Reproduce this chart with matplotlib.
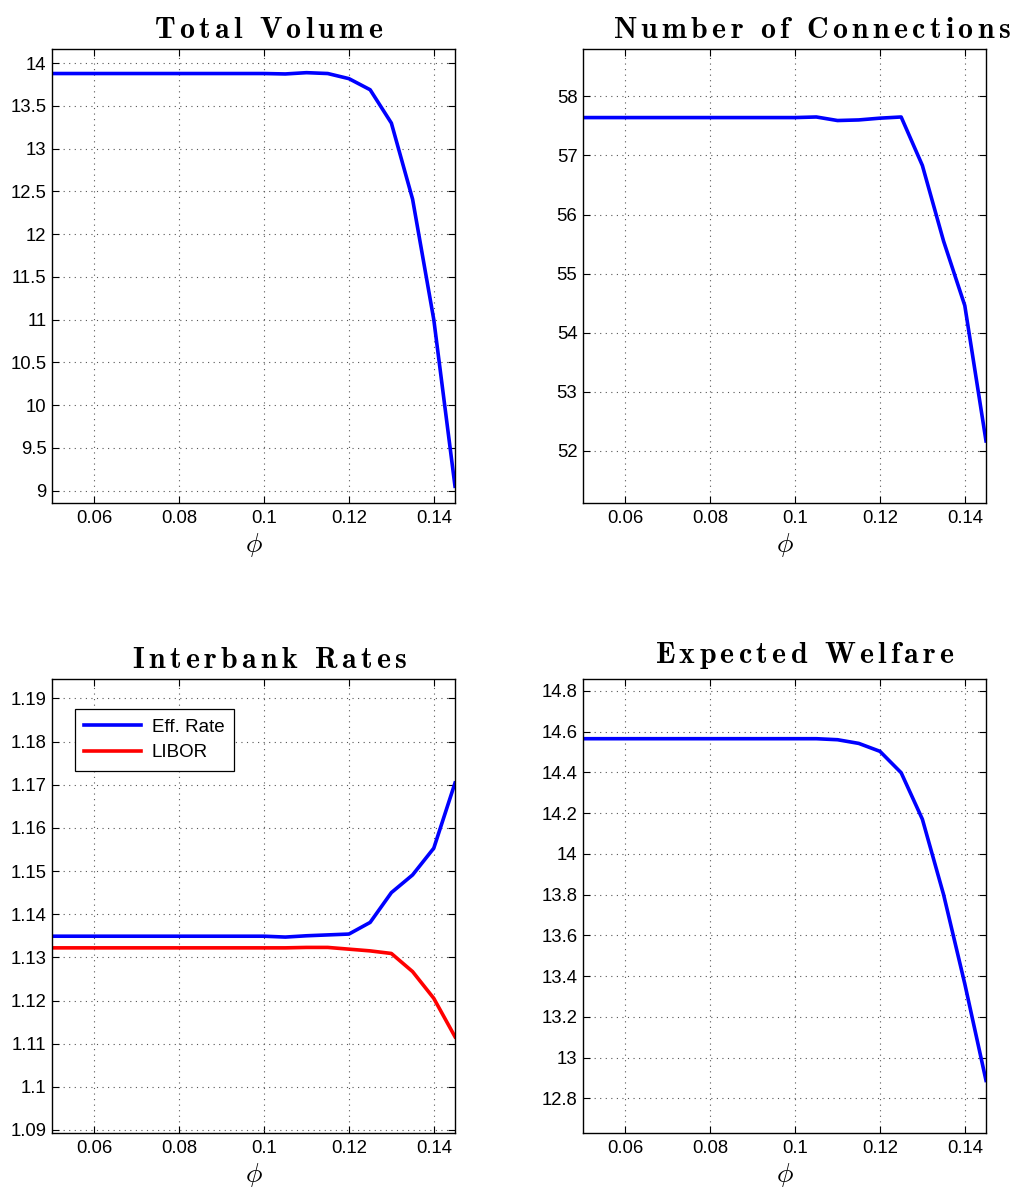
import matplotlib
matplotlib.use("Agg")
import matplotlib.pyplot as plt

plt.rcParams.update({
    "font.family": ["Liberation Sans", "DejaVu Sans"],
    "mathtext.fontset": "cm",
    "axes.linewidth": 1.0,
    "xtick.direction": "in",
    "ytick.direction": "in",
    "xtick.top": True,
    "ytick.right": True,
    "xtick.labelsize": 13.3,
    "ytick.labelsize": 13.3,
})

phi = [0.050, 0.055, 0.060, 0.065, 0.070, 0.075, 0.080, 0.085, 0.090, 0.095,
       0.100, 0.105, 0.110, 0.115, 0.120, 0.125, 0.130, 0.135, 0.140, 0.145]

total_volume = [13.88, 13.88, 13.88, 13.88, 13.88, 13.88, 13.88, 13.88, 13.88, 13.88,
                13.88, 13.875, 13.89, 13.88, 13.82, 13.69, 13.30, 12.41, 11.00, 9.05]

connections = [57.64, 57.64, 57.64, 57.64, 57.64, 57.64, 57.64, 57.64, 57.64, 57.64,
               57.64, 57.65, 57.59, 57.60, 57.63, 57.65, 56.83, 55.55, 54.46, 52.17]

eff_rate = [1.1349, 1.1349, 1.1349, 1.1349, 1.1349, 1.1349, 1.1349, 1.1349, 1.1349, 1.1349,
            1.1349, 1.1347, 1.1350, 1.1352, 1.1354, 1.1381, 1.1450, 1.1491, 1.1553, 1.1704]

libor = [1.1322, 1.1322, 1.1322, 1.1322, 1.1322, 1.1322, 1.1322, 1.1322, 1.1322, 1.1322,
         1.1322, 1.1322, 1.1323, 1.1323, 1.1319, 1.1315, 1.1309, 1.1267, 1.1205, 1.1116]

welfare = [14.565, 14.565, 14.565, 14.565, 14.565, 14.565, 14.565, 14.565, 14.565, 14.565,
           14.565, 14.565, 14.56, 14.542, 14.503, 14.398, 14.170, 13.80, 13.362, 12.888]

x_ticks = [0.06, 0.08, 0.10, 0.12, 0.14]
x_ticklabels = ["0.06", "0.08", "0.1", "0.12", "0.14"]

BLUE = "#0000ff"
RED = "#ff0000"
LW = 2.6

fig = plt.figure(figsize=(10.24, 11.91), dpi=100)
W, H = 1024, 1191


def make_ax(left, top, right, bottom):
    return fig.add_axes([left / W, 1 - bottom / H, (right - left) / W, (bottom - top) / H])


def style(ax, ylim, yticks, yticklabels, title, tx, ty):
    ax.set_xlim(0.05, 0.145)
    ax.set_ylim(*ylim)
    ax.set_xticks(x_ticks)
    ax.set_xticklabels(x_ticklabels)
    ax.set_yticks(yticks)
    ax.set_yticklabels(yticklabels)
    ax.tick_params(length=5, width=0.8)
    ax.tick_params(axis="x", pad=5)
    ax.tick_params(axis="y", pad=4)
    ax.grid(True, color="#555555", linestyle=(0, (1, 4)), linewidth=0.8)
    ax.set_xlabel(r"$\phi$", fontsize=20, labelpad=3)
    words = title.split(" ")
    tex = r"\ \ ".join(r"\,".join(w) for w in words)
    ax.text(tx, ty, r"$\mathbf{" + tex + "}$", transform=ax.transAxes,
            ha="center", va="baseline", fontsize=21.5)


# Total Volume
ax = make_ax(52, 49, 455, 503)
ax.plot(phi, total_volume, color=BLUE, lw=LW)
style(ax, (8.854, 14.167), [9, 9.5, 10, 10.5, 11, 11.5, 12, 12.5, 13, 13.5, 14],
      ["9", "9.5", "10", "10.5", "11", "11.5", "12", "12.5", "13", "13.5", "14"],
      "Total Volume", 0.538, 1.024)

# Number of Connections
ax = make_ax(583, 49, 986, 503)
ax.plot(phi, connections, color=BLUE, lw=LW)
style(ax, (51.12, 58.80), [52, 53, 54, 55, 56, 57, 58],
      ["52", "53", "54", "55", "56", "57", "58"],
      "Number of Connections", 0.568, 1.024)

# Interbank Rates
ax = make_ax(52, 679, 455, 1133)
ax.plot(phi, eff_rate, color=BLUE, lw=LW, label="Eff. Rate")
ax.plot(phi, libor, color=RED, lw=LW, label="LIBOR")
rate_ticks = [1.09, 1.10, 1.11, 1.12, 1.13, 1.14, 1.15, 1.16, 1.17, 1.18, 1.19]
style(ax, (1.0893, 1.1945), rate_ticks,
      ["1.09", "1.1", "1.11", "1.12", "1.13", "1.14", "1.15", "1.16", "1.17", "1.18", "1.19"],
      "Interbank Rates", 0.541, 1.024)
leg = ax.legend(loc="upper left", bbox_to_anchor=(0.057, 0.933), fontsize=13.5,
                fancybox=False, framealpha=1, edgecolor="black",
                handlelength=3.0, handletextpad=0.6, borderpad=0.5,
                labelspacing=0.45, borderaxespad=0)
leg.get_frame().set_linewidth(0.9)

# Expected Welfare
ax = make_ax(583, 679, 986, 1133)
ax.plot(phi, welfare, color=BLUE, lw=LW)
w_ticks = [12.8, 13.0, 13.2, 13.4, 13.6, 13.8, 14.0, 14.2, 14.4, 14.6, 14.8]
style(ax, (12.63, 14.858), w_ticks,
      ["12.8", "13", "13.2", "13.4", "13.6", "13.8", "14", "14.2", "14.4", "14.6", "14.8"],
      "Expected Welfare", 0.551, 1.036)

fig.savefig("out.png", dpi=100)
